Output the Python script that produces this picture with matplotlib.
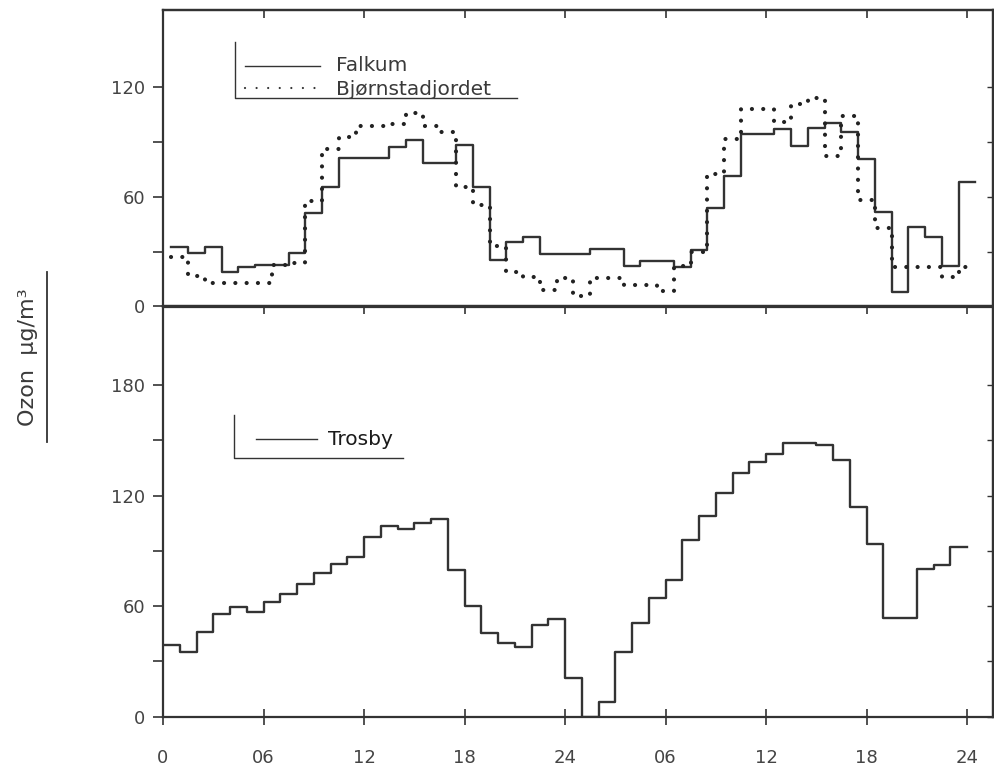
import numpy as np
import matplotlib.pyplot as plt
from matplotlib.lines import Line2D

plt.rcParams["font.family"] = ["DejaVu Sans"]

INK = "#333333"

# Hourly ozone (ug/m3) over two days.
# Upper panel: values centred on the hour, hours 1..48.
HOURS_TOP = list(range(1, 49))
FALKUM = [32.6, 29.4, 32.6, 19.0, 21.5, 22.5, 22.5, 29.0, 51.0, 65.0,
          81.0, 81.0, 81.0, 87.0, 91.0, 78.5, 78.5, 88.0, 65.0, 25.5,
          35.0, 38.0, 28.5, 28.5, 28.5, 31.5, 31.5, 22.0, 24.8, 24.8,
          21.7, 31.0, 53.6, 71.0, 94.0, 94.0, 96.7, 87.6, 97.3, 100.0,
          95.0, 80.3, 51.4, 8.1, 43.6, 37.8, 22.1, 68.0]
BJORNSTAD = [27.0, 16.8, 13.0, 13.0, 13.0, 13.0, 22.5, 24.0, 57.5, 86.0,
             92.4, 98.5, 98.5, 99.5, 105.4, 98.5, 95.2, 65.0, 55.4, 33.0,
             19.0, 16.0, 9.0, 15.7, 6.0, 15.5, 15.5, 12.0, 11.5, 8.7,
             22.0, 30.0, 72.3, 91.5, 107.6, 107.6, 100.5, 110.5, 114.0, 82.0,
             104.0, 58.0, 43.0, 21.7, 21.7, 21.7, 16.3, 21.7]

# Lower panel: hour-ending values starting at hour 0.
HOURS_TROSBY = list(range(0, 48))
TROSBY = [38.9, 35.3, 46.1, 55.7, 59.4, 57.0, 62.4, 66.6, 72.0, 77.8,
          82.9, 86.8, 97.7, 103.5, 101.7, 105.3, 107.3, 79.6, 60.1, 45.6,
          40.2, 37.7, 49.8, 52.8, 20.8, 0.0, 8.1, 35.3, 51.0, 64.2,
          74.2, 95.9, 108.9, 121.5, 132.4, 138.4, 142.5, 148.3, 148.3, 147.4,
          139.3, 113.6, 93.7, 53.4, 53.4, 80.0, 82.3, 92.2]

TICK_HOURS = [0, 6, 12, 18, 24, 30, 36, 42, 48]
TICK_LABELS = ["0", "06", "12", "18", "24", "06", "12", "18", "24"]

X_MAX = 49.55
DOTS = (0, (0.01, 2.7))
TICK_FS = 13


def stair(hours, values, offset):
    """Edges and values for a step line drawn with where='post'."""
    edges = np.asarray(hours, dtype=float) + offset
    edges = np.append(edges, edges[-1] + 1.0)
    vals = np.append(np.asarray(values, dtype=float), values[-1])
    return edges, vals


def frame(ax, ymax, major, minor):
    ax.set_xlim(0, X_MAX)
    ax.set_ylim(0, ymax)
    for sp in ax.spines.values():
        sp.set_linewidth(1.6)
        sp.set_color(INK)
    ax.set_yticks(major)
    ax.set_yticks(minor, minor=True)
    ax.tick_params(axis="y", which="both", direction="out", length=7,
                   width=1.2, color=INK, labelsize=TICK_FS, labelcolor="#444444",
                   pad=6)
    ax.tick_params(axis="y", which="minor", labelleft=False)

    right = ax.secondary_yaxis("right")
    right.set_ticks(sorted(major + minor))
    right.tick_params(direction="in", length=4, width=1.0, color=INK,
                      labelright=False)
    right.spines["right"].set_linewidth(1.6)
    right.spines["right"].set_color(INK)

    top = ax.secondary_xaxis("top")
    top.set_ticks(TICK_HOURS[1:])
    top.tick_params(direction="in", length=6, width=1.2, color=INK,
                    labeltop=False)
    top.spines["top"].set_linewidth(1.6)
    top.spines["top"].set_color(INK)


def bracket(ax, x0, y0, y1, x1):
    ax.plot([x0, x0, x1], [y1, y0, y0], color=INK, lw=1.0,
            transform=ax.transAxes, clip_on=False)


fig = plt.figure(figsize=(9.95, 7.69), dpi=100)
ax_top = fig.add_axes([163 / 995, 1 - 306.5 / 769, 830 / 995, 296.5 / 769])
ax_bot = fig.add_axes([163 / 995, 1 - 716.7 / 769, 830 / 995, 410.2 / 769])

# --- upper panel: Falkum and Bjørnstadjordet ---
frame(ax_top, 161.8, [0, 60, 120], [30, 90])
ax_top.tick_params(axis="x", bottom=False, labelbottom=False)

x, y = stair(HOURS_TOP, FALKUM, -0.5)
ax_top.step(x, y, where="post", color=INK, lw=1.7)
x, y = stair(HOURS_TOP, BJORNSTAD, -0.5)
ax_top.step(x, y, where="post", color="#222222", lw=3.0,
            linestyle=DOTS, dash_capstyle="round")

bracket(ax_top, 0.0867, 0.702, 0.893, 0.4261)
ax_top.plot([0.0988, 0.1892], [0.8111, 0.8111], color=INK, lw=1.0,
            transform=ax_top.transAxes)
ax_top.plot([0.0988, 0.1892], [0.7359, 0.7359], color=INK, lw=1.6,
            linestyle=(0, (0.01, 5.2)), dash_capstyle="round",
            transform=ax_top.transAxes)
ax_top.text(0.2084, 0.8145, "Falkum", transform=ax_top.transAxes,
            ha="left", va="center", fontsize=14.5, color="#3a3a3a")
ax_top.text(0.2084, 0.733, "Bjørnstadjordet", transform=ax_top.transAxes,
            ha="left", va="center", fontsize=14.5, color="#3a3a3a")

# --- lower panel: Trosby ---
frame(ax_bot, 222.6, [0, 60, 120, 180], [30, 90, 150])
ax_bot.set_xticks(TICK_HOURS, TICK_LABELS)
ax_bot.tick_params(axis="x", direction="inout", length=12, width=1.2,
                   color=INK, labelsize=TICK_FS, labelcolor="#444444", pad=17)

x, y = stair(HOURS_TROSBY, TROSBY, 0.0)
ax_bot.step(x, y, where="post", color=INK, lw=1.7)

bracket(ax_bot, 0.0855, 0.630, 0.7355, 0.2895)
ax_bot.plot([0.112, 0.1852], [0.6763, 0.6763], color=INK, lw=1.0,
            transform=ax_bot.transAxes)
ax_bot.text(0.1992, 0.6746, "Trosby", transform=ax_bot.transAxes,
            ha="left", va="center", fontsize=14.5, color="#1a1a1a")

# shared y label with its rule
fig.text(28 / 995, 1 - 357 / 769, "Ozon  µg/m³", rotation=90,
         ha="center", va="center", fontsize=16, color="#3a3a3a")
fig.add_artist(Line2D([47 / 995, 47 / 995], [1 - 272 / 769, 1 - 442 / 769],
                      transform=fig.transFigure, color=INK, lw=1.3))

fig.savefig("out.png", dpi=100, facecolor="white")
